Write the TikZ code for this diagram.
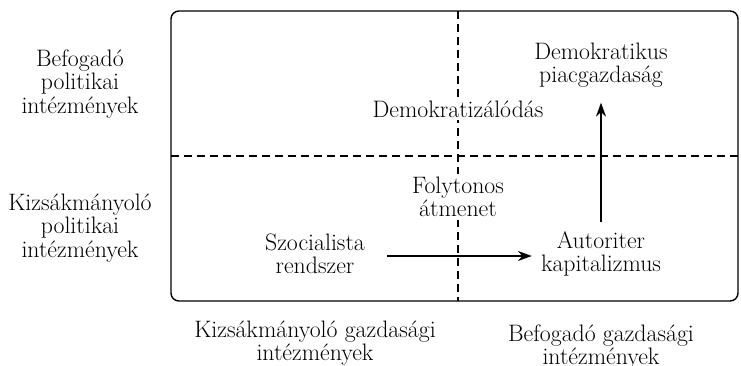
\documentclass[tikz,border=0pt]{standalone}
\usepackage{tikz}
\usetikzlibrary{positioning,arrows.meta}

\newcommand{\diafont}{\fontsize{23.8}{23.5}\selectfont}

\tikzset{
	txt/.style={align=center,inner sep=0pt,font=\diafont},
	over/.style={txt,fill=white,inner ysep=3pt},
	quad/.style={dash pattern=on 8pt off 5pt,line width=1.3pt},
	move/.style={-{Stealth[length=14pt,width=10pt]},line width=1.4pt}
}

\begin{document}
\begin{tikzpicture}[x=1pt,y=-1pt]

	\useasboundingbox (0,0) rectangle (741,365);

	% Frame and quadrants
	\draw[line width=1.4pt,rounded corners=8pt] (171,11) rectangle (738,301);
	\draw[quad] (458,11) -- (458,301);
	\draw[quad] (171,156) -- (738,156);

	% Row labels
	\node[txt] (befpol) at (80,84) {Befogadó\\politikai\\intézmények};
	\node[txt] (kizpol) at (80,228) {Kizsákmányoló\\politikai\\intézmények};

	% Column labels
	\node[txt] (kizgazd) at (315,343) {Kizsákmányoló gazdasági\\intézmények};
	\node[txt] (befgazd) at (601,347) {Befogadó gazdasági\\intézmények};

	% Inside the frame
	\node[txt] (demgazd) at (601,65) {Demokratikus\\piacgazdaság};
	\node[over] (demz) at (458,109) {Demokratizálódás};
	\node[over] (foly) at (458,197) {Folytonos\\átmenet};
	\node[txt] (szoc) at (315,254) {Szocialista\\rendszer};
	\node[txt] (autor) at (601,254) {Autoriter\\kapitalizmus};

	% Transitions
	\draw[move,shorten <=22pt,shorten >=9pt] ([yshift=-2pt]szoc.east) -- ([yshift=-2pt]autor.west);
	\draw[move,shorten <=9pt,shorten >=15pt] (autor) -- (demgazd);

\end{tikzpicture}
\end{document}
